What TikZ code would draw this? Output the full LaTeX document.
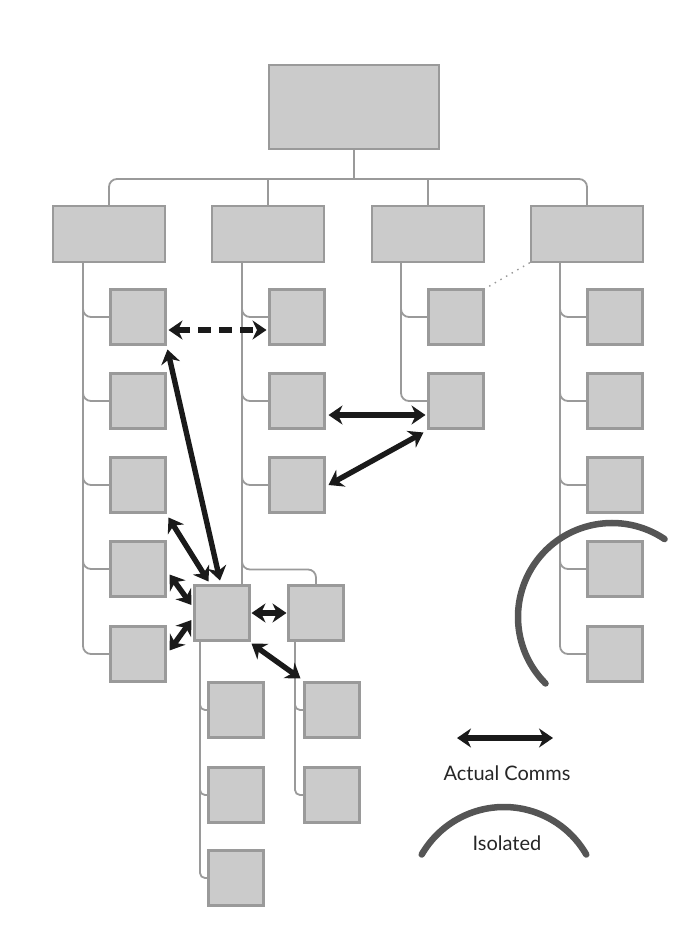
\documentclass[tikz,border=0pt]{standalone}
\usepackage{fontspec}
\setmainfont{Lato}
\usetikzlibrary{arrows.meta,calc}
\definecolor{boxfill}{HTML}{CBCBCB}
\definecolor{boxline}{HTML}{9A9A9A}
\definecolor{treeline}{HTML}{9A9A9A}
\definecolor{arcgray}{HTML}{555555}
\definecolor{arrowblk}{HTML}{1A1A1A}
\tikzset{
  box/.style={draw=boxline, fill=boxfill, line width=2.8pt, inner sep=0pt, outer sep=0pt},
  sq/.style={box, minimum width=55pt, minimum height=55pt},
  wide/.style={box, minimum width=112pt, minimum height=56pt},
  tree/.style={draw=treeline, line width=1.8pt, rounded corners=8pt},
  comm/.style={draw=arrowblk, line width=5.4pt,
    {Stealth[length=14pt,width=19pt,inset=4.5pt]}-{Stealth[length=14pt,width=19pt,inset=4.5pt]}},
  isoarc/.style={draw=arcgray, line width=6.5pt, line cap=round},
  lbl/.style={font=\fontsize{20}{24}\selectfont, text=black!85}
}
\begin{document}
\begin{tikzpicture}[x=1pt,y=-1pt]
\useasboundingbox (0,0) rectangle (690,950);
% boxes
\node[box, minimum width=170pt, minimum height=84pt] (top) at (354,107) {};
\node[wide] (a) at (109,234) {};
\node[wide] (b) at (268,234) {};
\node[wide] (cc) at (428,234) {};
\node[wide] (d) at (587,234) {};
\foreach \i/\y in {1/317,2/401,3/485,4/569,5/654}{
  \node[sq] (l\i) at (138,\y) {};
  \node[sq] (q\i) at (615,\y) {};
}
\foreach \i/\y in {1/317,2/401,3/485}{ \node[sq] (m\i) at (297,\y) {}; }
\foreach \i/\y in {1/317,2/401}{ \node[sq] (n\i) at (456,\y) {}; }
\node[sq] (c) at (222,613) {};
\node[sq] (r) at (316,613) {};
\foreach \i/\y in {1/710,2/795,3/878}{ \node[sq] (cl\i) at (236,\y) {}; }
\foreach \i/\y in {1/710,2/795}{ \node[sq] (rc\i) at (332,\y) {}; }
% tree lines
\coordinate (bus) at (354,179);
\draw[tree] (top.south) -- (bus);
\draw[tree] (a.north) |- (bus);
\draw[tree] (d.north) |- (bus);
\draw[tree] (b.north) -- (b.north |- bus);
\draw[tree] (cc.north) -- (cc.north |- bus);
\coordinate (as) at (83,263);
\coordinate (bs) at (242,263);
\coordinate (cs) at (401,263);
\coordinate (ds) at (560,263);
\foreach \i in {1,...,5}{
  \draw[tree] (as) |- (l\i.west);
  \draw[tree] (ds) |- (q\i.west);
}
\foreach \i in {1,2,3}{ \draw[tree] (bs) |- (m\i.west); }
\foreach \i in {1,2}{ \draw[tree] (cs) |- (n\i.west); }
\draw[tree] (bs) -- (bs |- c.north);
\draw[tree] (bs) |- ($(r.north)+(0,-16)$) -- (r.north);
\coordinate (cls) at (200,642);
\coordinate (rcs) at (295,642);
\foreach \i in {1,2,3}{ \draw[tree, rounded corners=5pt] (cls) |- (cl\i.west); }
\foreach \i in {1,2}{ \draw[tree, rounded corners=5pt] (rcs) |- (rc\i.west); }
\draw[treeline, line width=1.4pt, dash pattern=on 1.5pt off 5pt] (n1.north east) -- (d.south west);
% communication arrows
\draw[comm, dash pattern=on 13pt off 8pt] ($(l1.east)+(3,13)$) -- ($(m1.west)+(-3,13)$);
\draw[comm] ($(l1.south east)+(2,5)$) -- ($(c.north)+(-2,-5)$);
\draw[comm] ($(l3.south east)+(3,5)$) -- ($(c.north west)+(14,-4)$);
\draw[comm] ($(l4.south east)+(4,-22)$) -- ($(c.west)+(-3,-8)$);
\draw[comm] ($(l5.north east)+(4,24)$) -- ($(c.west)+(-3,7)$);
\draw[comm] ($(c.east)+(2,0)$) -- ($(r.west)+(-2,0)$);
\draw[comm] ($(c.south east)+(2,3)$) -- ($(rc1.north west)+(-4,-4)$);
\draw[comm] ($(m2.east)+(4,14)$) -- ($(n2.west)+(-3,14)$);
\draw[comm] ($(m3.east)+(4,0)$) -- ($(n2.south west)+(-5,4)$);
% isolated arc
\coordinate (isoc) at (612,617);
\draw[isoarc] ($(isoc)+({94*cos(-56)},{94*sin(-56)})$) arc[start angle=-56, end angle=-225, radius=94];
% legend
\coordinate (la) at (457,738);
\coordinate (lb) at (553,738);
\draw[comm] (la) -- (lb);
\node[lbl] (t1) at (507,773) {Actual Comms};
\coordinate (lc) at (504,902);
\draw[isoarc] ($(lc)+({95*cos(-30)},{95*sin(-30)})$) arc[start angle=-30, end angle=-150, radius=95];
\node[lbl] (t2) at (507,843) {Isolated};
\end{tikzpicture}
\end{document}
